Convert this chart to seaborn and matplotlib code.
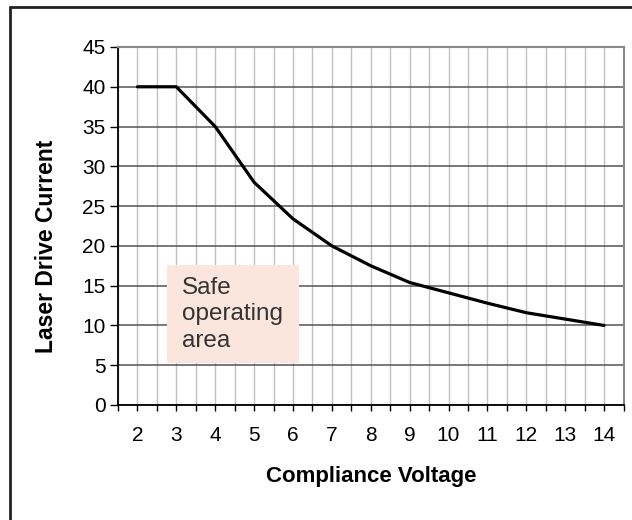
import numpy as np
import pandas as pd
import seaborn as sns
import matplotlib.pyplot as plt
from matplotlib.patches import Rectangle
from matplotlib.lines import Line2D

# Data
voltage = [2, 3, 4, 5, 6, 7, 8, 9, 10, 11, 12, 13, 14]
current = [40, 40, 35, 28, 23.4, 20, 17.5, 15.4, 14.1, 12.8, 11.6, 10.8, 10]
y_ticks = [0, 5, 10, 15, 20, 25, 30, 35, 40, 45]

df = pd.DataFrame({'Compliance Voltage': voltage, 'Laser Drive Current': current})

sns.set_style('white')
plt.rcParams['font.family'] = ['Liberation Sans', 'DejaVu Sans']

fig = plt.figure(figsize=(6.32, 5.2), dpi=100)
ax = fig.add_axes([118 / 632, 1 - 405 / 520, (623.5 - 118) / 632, (405 - 47) / 520])

# Excel-like grid: light vertical lines every half category, darker horizontal ones
ax.set_xlim(1.5, 14.5)
ax.set_ylim(0, 45)
ax.set_xticks(voltage)
ax.set_xticks(np.arange(1.5, 14.6, 1.0), minor=True)
ax.set_yticks(y_ticks)
ax.grid(axis='x', which='both', color='#c0c0c0', lw=1.0)
ax.grid(axis='y', which='major', color='#555555', lw=1.1)
ax.set_axisbelow(True)

sns.lineplot(data=df, x='Compliance Voltage', y='Laser Drive Current',
             color='black', lw=2.3, ax=ax, zorder=5)

# annotation box
ax.add_patch(Rectangle((2.76, 5.3), 3.4, 12.3, facecolor='#fbe6de', edgecolor='none', zorder=3))
ax.text(3.14, 11.4, 'Safe\noperating\narea', fontsize=17.5, color='#333333',
        va='center', ha='left', linespacing=1.25, zorder=4)

for s in ['top', 'right']:
    ax.spines[s].set_color('#888888')
    ax.spines[s].set_linewidth(1.5)
for s in ['left', 'bottom']:
    ax.spines[s].set_color('black')
    ax.spines[s].set_linewidth(1.3)

ax.tick_params(axis='y', which='major', direction='out', length=6, width=1, color='black',
               labelsize=15, labelcolor='black', pad=3, left=True)
ax.tick_params(axis='x', which='both', direction='out', length=4, width=1, color='black',
               bottom=True, pad=11)
ax.tick_params(axis='x', which='major', labelsize=15, labelcolor='black')

ax.set_xlabel('Compliance Voltage', fontsize=16, fontweight='bold', color='black')
ax.set_ylabel('Laser Drive Current', fontsize=16.5, fontweight='bold', color='black')
ax.xaxis.set_label_coords(0.5, -0.17)
ax.yaxis.set_label_coords(-0.119, 0.444)

# outer chart border (only left and top visible in the crop)
fig.add_artist(Line2D([10 / 632, 10 / 632], [-0.1, 1 - 7 / 520], color='#222222', lw=2,
                      transform=fig.transFigure))
fig.add_artist(Line2D([10 / 632, 1.1], [1 - 7 / 520, 1 - 7 / 520], color='#222222', lw=2,
                      transform=fig.transFigure))

fig.savefig('out.png', dpi=100)
